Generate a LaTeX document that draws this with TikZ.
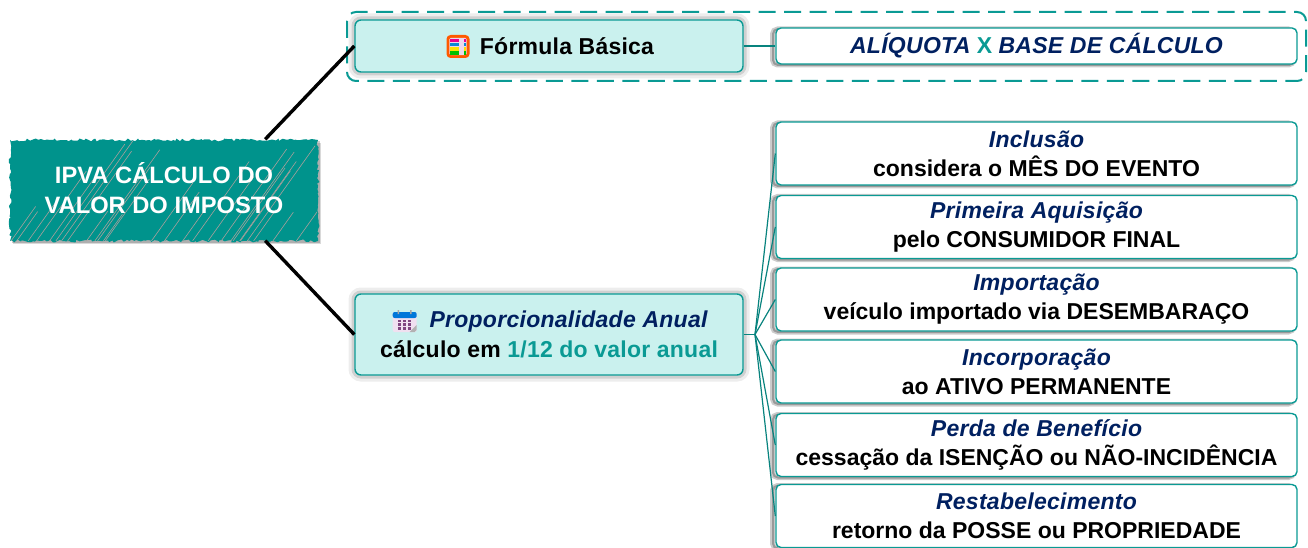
\documentclass[tikz,border=0pt]{standalone}
\usepackage{fontspec}
\setmainfont{Liberation Sans}
\usepackage{color}
\usetikzlibrary{decorations.pathmorphing}
\definecolor{tealmain}{HTML}{00938C}
\definecolor{tealline}{HTML}{0A9A94}
\definecolor{tealpale}{HTML}{CAF1EE}
\definecolor{headnavy}{HTML}{002060}
\definecolor{hatchgray}{HTML}{A8A09C}
\tikzset{
    trunk/.style={line width=3.4pt,black},
    twig/.style={line width=1.2pt,tealline!85!black},
    rootbox/.style={text=white,font=\fontsize{23.7}{30}\selectfont\bfseries,align=center,minimum width=308pt,minimum height=101pt},
    greenbox/.style={draw=tealline,line width=1.4pt,fill=tealpale,rounded corners=6pt,minimum width=388pt,align=center,
        font=\fontsize{23}{30}\selectfont\bfseries\addfontfeature{LetterSpace=1},
        preaction={draw=black,opacity=.07,line width=13pt},
        preaction={draw=black,opacity=.12,line width=7pt}},
    whitebox/.style={draw=tealline,line width=1.4pt,fill=white,rounded corners=5pt,minimum width=521pt,align=center,
        font=\fontsize{23}{29}\selectfont\bfseries,
        preaction={draw=black,opacity=.2,line width=5pt,transform canvas={xshift=-3.5pt,yshift=-1pt}},
        preaction={draw=black,opacity=.25,line width=2pt,transform canvas={xshift=-3pt,yshift=-1pt}}},
}
\newcommand{\headtxt}[1]{{\color{headnavy}\itshape\addfontfeature{LetterSpace=1.2}#1}}
\begin{document}
\begin{tikzpicture}[x=1pt,y=-1pt]
    \useasboundingbox (0,0) rectangle (1308,548);
    \pgfmathsetseed{41}
    % dashed frame
    \draw[tealline,line width=2pt,dash pattern=on 17pt off 8.5pt,rounded corners=9pt] (347,12) rectangle (1306,81);
    % root
    \fill[black,opacity=.15,transform canvas={xshift=3pt,yshift=-3pt}] (10,140) rectangle (318,241);
    \fill[black,opacity=.2,transform canvas={xshift=1.5pt,yshift=-1.5pt}] (10,140) rectangle (318,241);
    \fill[tealmain,decorate,decoration={random steps,segment length=2.5pt,amplitude=1.5pt}] (10,140) rectangle (318,241);
    \begin{scope}
    \clip (11,141) rectangle (317,240);
    \foreach \k in {1,...,34}{
        \pgfmathsetmacro{\xa}{rnd*400}
        \pgfmathsetmacro{\len}{0.25+rnd*0.75}
        \draw[hatchgray,line width=.6pt] (\xa,241) -- ++({72*\len},{-101*\len});
    }
    \end{scope}
    \node[rootbox] (root) at (164,190) {\raisebox{4.5pt}{IPVA CÁLCULO DO}\\\raisebox{4pt}{VALOR DO IMPOSTO}};
    % branches
    \node[greenbox,minimum height=52pt] (formula) at (549,46) {\hspace*{36pt}\raisebox{-1pt}{Fórmula Básica}};
    \node[whitebox,minimum height=36pt] (aliquota) at (1036.5,46)
        {\headtxt{ALÍQUOTA} {\color{tealline}X} \headtxt{BASE DE CÁLCULO}};
    \node[greenbox,minimum height=81pt] (prop) at (549,334.5)
        {\hspace*{39pt}\raisebox{-2pt}{\headtxt{Proporcionalidade Anual}}\\\raisebox{-2pt}{cálculo em {\color{tealline}1/12 do valor anual}}};
    % events
    \foreach \name/\ypos/\head/\body in {
        inclusao/153.5/Inclusão/considera o MÊS DO EVENTO,
        aquisicao/227/Primeira Aquisição/pelo CONSUMIDOR FINAL,
        importacao/299.5/Importação/veículo importado via DESEMBARAÇO,
        incorporacao/371.5/Incorporação/ao ATIVO PERMANENTE,
        perda/445/Perda de Benefício/cessação da ISENÇÃO ou NÃO-INCIDÊNCIA,
        restabelece/516/Restabelecimento/retorno da POSSE ou PROPRIEDADE}
      \node[whitebox,minimum height=63pt] (\name) at (1036.5,\ypos) {\headtxt{\head}\\\body};
    % connectors
    \coordinate (fork) at (755,334.5);
    \draw[trunk] ([xshift=-53pt]root.north east) -- (formula.west);
    \draw[trunk] ([xshift=-53pt]root.south east) -- (prop.west);
    \draw[twig] (formula.east) -- (aliquota.west);
    \draw[twig] (prop.east) -- (fork);
    \foreach \name in {inclusao,aquisicao,importacao,incorporacao,perda,restabelece}
      \draw[twig] (fork) -- (\name.west);
    % abacus icon
    \begin{scope}[shift={(458,46.5)}]
      \fill[orange!70!red,rounded corners=4pt] (-11.5,-11.5) rectangle (11.5,11.5);
      \fill[white!85!violet,rounded corners=1.5pt] (-8.7,-8.7) rectangle (8.7,8.7);
      \foreach \ypos/\col in {-6/magenta,-2/cyan!70!blue,2.4/yellow!85!orange,6.4/green!75!black}{
        \fill[\col] (-8.2,\ypos-1.7) rectangle (1,\ypos+1.7);
        \fill[\col] (5.5,\ypos-1.7) rectangle (8.2,\ypos+1.7);
      }
    \end{scope}
    % calendar icon
    \begin{scope}[shift={(404.7,321)}]
      \fill[violet!12!white,rounded corners=2pt] (-12,-9) rectangle (12,11);
      \fill[gray!60] (12,4) -- (12,9) -- (10,11) -- (5,11) -- cycle;
      \fill[blue!45!cyan!85!black,rounded corners=2pt] (-12,-9) rectangle (12,-3);
      \fill[gray!70] (-7,-11) rectangle (-5.5,-7) (5.5,-11) rectangle (7,-7);
      \foreach \xa in {-7,-2,3}
        \foreach \ya in {0,3.7,7.4}
          \fill[violet!45!gray] (\xa,\ya-1.3) rectangle ++(3.2,2.6);
    \end{scope}
\end{tikzpicture}
\end{document}
